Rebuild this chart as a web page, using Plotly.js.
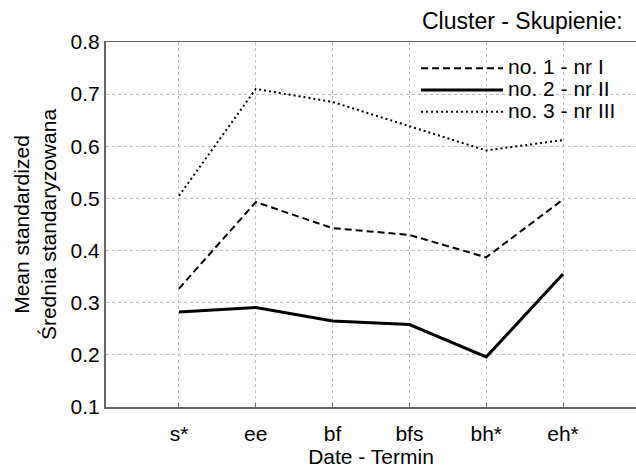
<!DOCTYPE html>
<html>
<head>
<meta charset="utf-8">
<script src="https://cdn.plot.ly/plotly-3.0.1.min.js"></script>
<style>html,body{margin:0;padding:0;background:#fff;}#chart{width:636px;height:468px;}</style>
</head>
<body>
<div id="chart"></div>
<script>
const categories = ["s*", "ee", "bf", "bfs", "bh*", "eh*"];
const cluster1 = [0.327, 0.493, 0.443, 0.430, 0.387, 0.498];
const cluster2 = [0.282, 0.291, 0.265, 0.258, 0.196, 0.355];
const cluster3 = [0.505, 0.710, 0.685, 0.638, 0.592, 0.612];
const seriesNames = ["no. 1 - nr I", "no. 2 - nr II", "no. 3 - nr III"];
const legendTitle = "Cluster - Skupienie:";
const yTicks = [0.1, 0.2, 0.3, 0.4, 0.5, 0.6, 0.7, 0.8];

const idx = categories.map((c, i) => i);
const font = "Liberation Sans, Arial, sans-serif";
const legendName = n => '<span style="font-size:21px">' + n + '</span>';

const traces = [
  {x: idx, y: cluster1, name: legendName(seriesNames[0]), mode: "lines", line: {color: "#000", width: 2, dash: "7px,4px"}},
  {x: idx, y: cluster2, name: legendName(seriesNames[1]), mode: "lines", line: {color: "#000", width: 3}},
  {x: idx, y: cluster3, name: legendName(seriesNames[2]), mode: "lines", line: {color: "#000", width: 2, dash: "2px,3px"}}
];

const layout = {
  width: 636, height: 468,
  margin: {l: 106, r: 0, t: 42, b: 61},
  paper_bgcolor: "#fff", plot_bgcolor: "#fff",
  font: {family: font, color: "#000"},
  showlegend: true,
  legend: {x: 0.585, y: 0.972, xanchor: "left", yanchor: "top", bgcolor: "rgba(0,0,0,0)",
           font: {size: 14.5, family: font}, itemwidth: 82, tracegroupgap: 0},
  xaxis: {
    range: [-0.95, 5.95], tickmode: "array", tickvals: idx, ticktext: categories,
    showgrid: true, gridcolor: "#bdbdbd", griddash: "dot", gridwidth: 1,
    showline: true, linecolor: "#666", linewidth: 1.5, mirror: true,
    ticks: "inside", ticklen: 4, tickcolor: "#666", ticklabelstandoff: 7,
    tickfont: {size: 21, family: font}, zeroline: false, fixedrange: true,
    title: {text: "Date - Termin", font: {size: 21, family: font}, standoff: 9}
  },
  yaxis: {
    range: [0.1, 0.8], tickmode: "array", tickvals: yTicks, ticktext: yTicks.map(v => v.toFixed(1)),
    showgrid: true, gridcolor: "#bdbdbd", griddash: "dot", gridwidth: 1,
    showline: true, linecolor: "#666", linewidth: 2,
    ticks: "", tickfont: {size: 21, family: font}, zeroline: false, fixedrange: true,
    title: {text: "Mean standardized<br>Średnia standaryzowana", font: {size: 21, family: font}, standoff: 8}
  },
  annotations: [
    {text: legendTitle, xref: "paper", yref: "paper", x: 0.98, y: 1.0, xanchor: "right", yanchor: "bottom",
     yshift: 6, showarrow: false, font: {size: 23, family: font}}
  ]
};

Plotly.newPlot("chart", traces, layout, {displayModeBar: false, staticPlot: true});
</script>
</body>
</html>
